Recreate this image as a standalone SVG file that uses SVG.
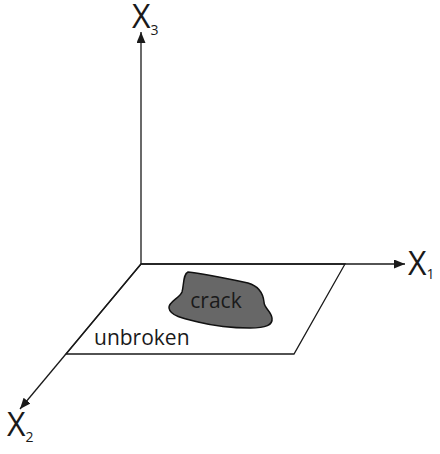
<svg xmlns="http://www.w3.org/2000/svg" width="440" height="454" viewBox="0 0 440 454">
<style>
.ax{stroke:#1a1a1a;stroke-width:1.3;fill:none;marker-end:url(#arr)}
.t{font-family:"Open Sans","Liberation Sans",sans-serif;fill:#1a1a1a}
.big{font-size:32px}
.sub{font-size:14px}
.lbl{font-size:21px}
</style>
<defs>
<marker id="arr" markerUnits="userSpaceOnUse" markerWidth="12" markerHeight="10" refX="11" refY="4.5" orient="auto">
<path d="M0,0 L11,4.5 L0,9 Z" fill="#1a1a1a"/>
</marker>
</defs>
<rect width="440" height="454" fill="#fff"/>
<g id="plane">
<polygon points="141,264 345,264 294,354 66,354" fill="#fff" stroke="#1a1a1a" stroke-width="1.3"/>
<text class="t lbl" x="94" y="345">unbroken</text>
</g>
<g id="crack">
<path d="M188,272 C200,273 225,278 248,283 C258,286 263,292 264,302 C264,308 271,311 272,318 C273,325 266,328 250,328 C230,328 210,325 198,322 C185,319 170,316 169,308 C168,302 180,298 182,292 C184,285 183,274 188,272 Z" fill="#676767" stroke="#111" stroke-width="1.5"/>
<text class="t lbl" x="216" y="308" text-anchor="middle">crack</text>
</g>
<g id="connectors">
<line class="ax" x1="141" y1="264" x2="141" y2="32"/>
<line class="ax" x1="141" y1="264" x2="405" y2="264"/>
<line class="ax" x1="141" y1="264" x2="20" y2="409"/>
</g>
<g id="label-x3"><text class="t" x="132" y="28"><tspan class="big">X</tspan><tspan class="sub" dy="7">3</tspan></text></g>
<g id="label-x1"><text class="t" x="408" y="275"><tspan class="big">X</tspan><tspan class="sub" dy="4">1</tspan></text></g>
<g id="label-x2"><text class="t" x="7" y="436"><tspan class="big">X</tspan><tspan class="sub" dy="6">2</tspan></text></g>
</svg>
